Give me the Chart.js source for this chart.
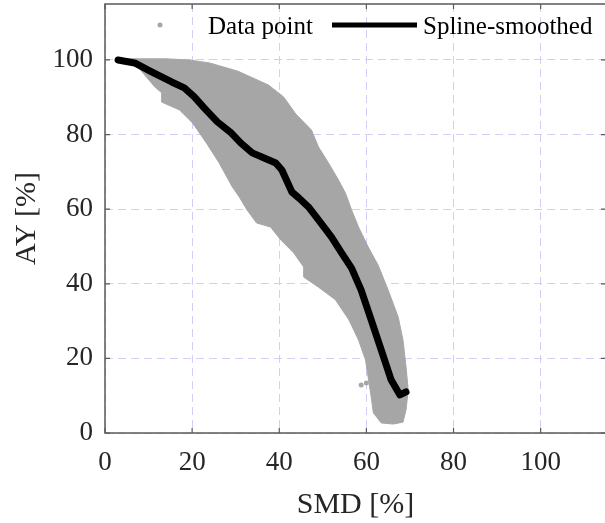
<!DOCTYPE html>
<html>
<head>
<meta charset="utf-8">
<script src="https://cdn.jsdelivr.net/npm/chart.js@4/dist/chart.umd.min.js"></script>
<style>
html,body{margin:0;padding:0;overflow:hidden;background:#fff;width:605px;height:523px;}
canvas{display:block;}
</style>
</head>
<body>
<canvas id="c" width="610" height="523"></canvas>
<script>
// ---- data ----
const xTicks = [0, 20, 40, 60, 80, 100];
const yTicks = [0, 20, 40, 60, 80, 100];
const xTitle = 'SMD [%]';
const yTitle = 'AY [%]';
const legendLabels = ['Data point', 'Spline-smoothed'];

// outline of the dense cloud of data points (traced around its edge)
const cloudX = [2.96, 8.0, 14.1, 19.4, 24.0, 30.5, 37.5, 41.0, 43.8, 47.4, 49.0, 51.3, 53.6, 55.2, 56.6, 58.2, 60.4, 62.7, 65.0, 67.3, 68.4, 69.1, 69.6, 69.1, 68.4, 66.1, 63.4, 61.6, 61.1, 60.4, 59.8, 58.2, 56.0, 52.9, 49.0, 45.6, 45.6, 43.3, 40.4, 38.0, 34.8, 32.6, 30.8, 29.2, 26.2, 23.3, 20.1, 17.1, 13.0, 13.0, 11.4, 6.8, 3.4, 2.96];
const cloudY = [100.3, 100.3, 100.3, 100.0, 99.2, 97.0, 93.3, 90.1, 85.5, 81.2, 76.7, 72.4, 67.8, 64.3, 59.8, 55.2, 49.9, 45.0, 38.3, 31.1, 24.9, 17.7, 11.5, 6.2, 2.9, 2.4, 2.7, 5.4, 9.7, 15.0, 19.6, 24.9, 30.3, 35.7, 39.1, 41.8, 44.5, 48.3, 51.7, 55.2, 56.3, 59.8, 63.3, 66.0, 72.4, 77.7, 83.1, 86.6, 88.7, 91.2, 92.8, 99.2, 100.0, 100.3];
// isolated data points outside the cloud
const outlierX = [58.8, 60.0];
const outlierY = [12.9, 13.4];

// spline-smoothed curve
const splineX = [3.0, 6.8, 10.7, 15.3, 18.2, 20.5, 22.8, 25.8, 29.0, 31.2, 33.8, 36.0, 39.2, 40.6, 42.9, 44.5, 46.7, 49.0, 52.0, 54.3, 56.6, 58.8, 61.1, 63.4, 65.7, 67.7, 69.1];
const splineY = [100.0, 99.2, 96.8, 94.1, 92.5, 90.1, 87.1, 83.4, 80.4, 77.7, 75.1, 74.0, 72.4, 70.5, 64.6, 63.0, 60.6, 57.1, 52.5, 48.3, 44.2, 38.3, 30.3, 22.3, 14.2, 10.2, 11.0];

const zip = (xs, ys) => xs.map((x, i) => ({x: x, y: ys[i]}));

const FONT = '"Liberation Serif", "Times New Roman", serif';
const GRAY = '#a6a6a6';
const FRAME = '#5a5a5a';

const framePlugin = {
  id: 'frame',
  afterDraw(chart) {
    const ctx = chart.ctx;
    const a = chart.chartArea;
    const xs = chart.scales.x, ys = chart.scales.y;
    ctx.save();
    ctx.strokeStyle = FRAME;
    ctx.lineWidth = 1.5;
    ctx.strokeRect(a.left, a.top, a.right - a.left, a.bottom - a.top);
    ctx.lineWidth = 1.2;
    const tl = 5;
    ctx.beginPath();
    xTicks.forEach(v => {
      const px = xs.getPixelForValue(v);
      ctx.moveTo(px, a.bottom); ctx.lineTo(px, a.bottom - tl);
      ctx.moveTo(px, a.top); ctx.lineTo(px, a.top + tl);
    });
    yTicks.forEach(v => {
      const py = ys.getPixelForValue(v);
      ctx.moveTo(a.left, py); ctx.lineTo(a.left + tl, py);
      ctx.moveTo(a.right, py); ctx.lineTo(a.right - tl, py);
    });
    ctx.stroke();

    // legend (inside the axes, top)
    const ly = 25;
    ctx.fillStyle = GRAY;
    ctx.beginPath(); ctx.arc(160, ly, 2.5, 0, Math.PI * 2); ctx.fill();
    ctx.fillStyle = '#000';
    ctx.font = '25px ' + FONT;
    ctx.textBaseline = 'alphabetic';
    ctx.textAlign = 'left';
    ctx.fillText(legendLabels[0], 208, 34);
    ctx.strokeStyle = '#000';
    ctx.lineWidth = 5;
    ctx.beginPath(); ctx.moveTo(332, ly); ctx.lineTo(417, ly); ctx.stroke();
    ctx.fillText(legendLabels[1], 423, 34);
    ctx.restore();
  }
};

new Chart(document.getElementById('c'), {
  type: 'scatter',
  data: {
    datasets: [
      {
        label: 'Spline-smoothed',
        data: zip(splineX, splineY),
        showLine: true,
        borderColor: '#000',
        borderWidth: 7,
        borderJoinStyle: 'round',
        borderCapStyle: 'round',
        pointRadius: 0,
        tension: 0,
        fill: false,
        order: 0
      },
      {
        label: 'Data point',
        data: zip(cloudX, cloudY),
        showLine: true,
        borderColor: GRAY,
        backgroundColor: GRAY,
        borderWidth: 1,
        pointRadius: 0,
        tension: 0,
        fill: 'shape',
        order: 1
      },
      {
        label: 'Data point outliers',
        data: zip(outlierX, outlierY),
        showLine: false,
        backgroundColor: GRAY,
        borderColor: GRAY,
        pointRadius: 2.5,
        borderWidth: 0,
        order: 2
      }
    ]
  },
  options: {
    responsive: false,
    animation: false,
    devicePixelRatio: 1,
    layout: {padding: {left: 0, right: 0, top: 4, bottom: 0}},
    plugins: {legend: {display: false}, tooltip: {enabled: false}},
    scales: {
      x: {
        type: 'linear', min: 0, max: 115,
        afterBuildTicks: s => { s.ticks = xTicks.map(v => ({value: v})); },
        afterFit: s => { s.height = 90; s.paddingLeft = 0; s.paddingRight = 0; },
        grid: {color: '#cfcffa', lineWidth: 1, drawTicks: false},
        border: {display: false, dash: [8, 5]},
        ticks: {color: '#262626', font: {family: FONT, size: 27}, padding: 14, maxRotation: 0},
        title: {display: true, text: xTitle, color: '#262626', font: {family: FONT, size: 30}, padding: {top: 0, bottom: 0}}
      },
      y: {
        type: 'linear', min: 0, max: 115,
        afterBuildTicks: s => { s.ticks = yTicks.map(v => ({value: v})); },
        afterFit: s => { s.width = 105; s.paddingTop = 0; s.paddingBottom = 0; },
        grid: {color: '#cfcffa', lineWidth: 1, drawTicks: false},
        border: {display: false, dash: [8, 5]},
        ticks: {color: '#262626', font: {family: FONT, size: 27}, padding: 12},
        title: {display: true, text: yTitle, color: '#262626', font: {family: FONT, size: 30}, padding: {top: 9, bottom: 0}}
      }
    }
  },
  plugins: [framePlugin]
});
</script>
</body>
</html>
